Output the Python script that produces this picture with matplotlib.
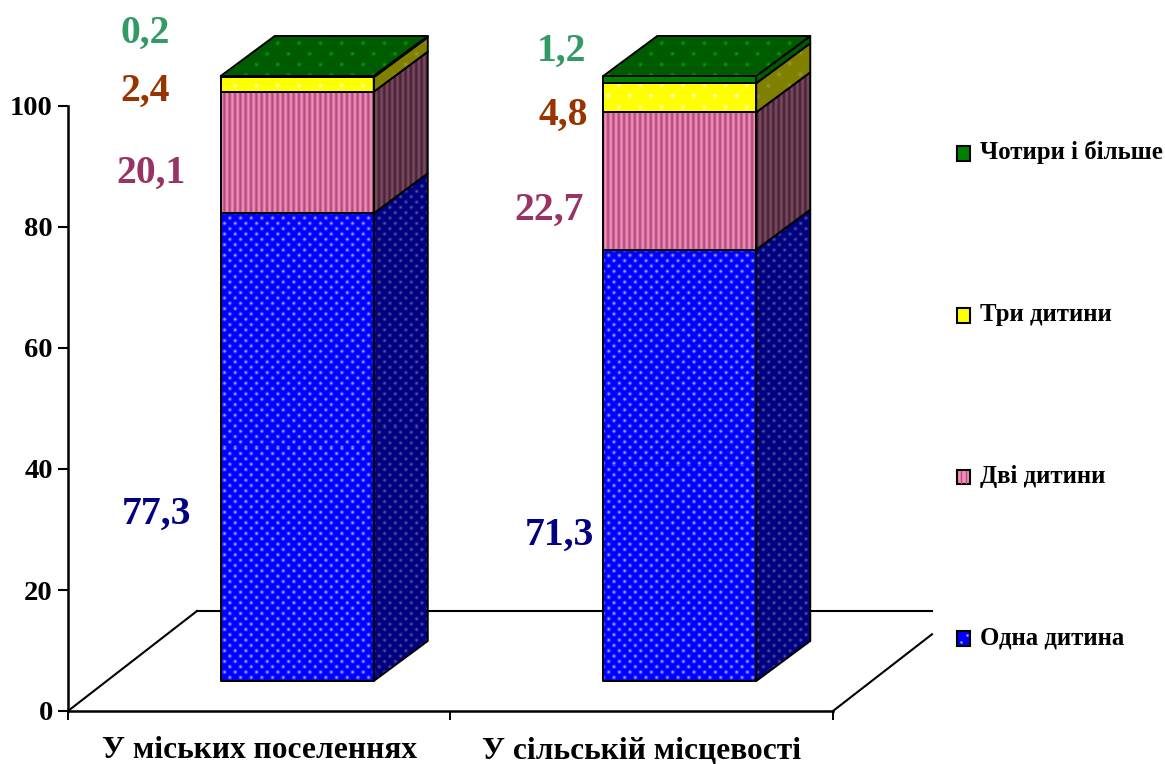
import numpy as np
import matplotlib
matplotlib.use("Agg")
import matplotlib.pyplot as plt
from matplotlib.legend_handler import HandlerBase
from matplotlib.lines import Line2D
from matplotlib.patches import Patch, Polygon, Rectangle

# Share of families by number of children, settlement type
categories = ["У міських поселеннях", "У сільській місцевості"]
series_names = ["Одна дитина", "Дві дитини", "Три дитини", "Чотири і більше"]
one_child = [77.3, 71.3]
two_children = [20.1, 22.7]
three_children = [2.4, 4.8]
four_plus = [0.2, 1.2]
y_ticks = [0, 20, 40, 60, 80, 100]

# Styling per series: front colour, side colour, texture colour, texture kind, label colour
front_colors = ["#0000ff", "#f58cba", "#ffff00", "#008000"]
side_colors = ["#000080", "#7a4a62", "#808000", "#005a00"]
mark_colors = ["#a8a8ff", "#b0507f", "#ffffd0", "#10c010"]
side_mark_colors = ["#55559f", "#4a2436", "#9a9a30", "#00b000"]
textures = ["fine", "stripes", "coarse", "coarse"]
label_colors = ["#000080", "#993366", "#993300", "#339966"]

W, H, DPI = 1165, 764, 100
SERIF = "Liberation Serif"
plt.rcParams["font.family"] = [SERIF, "DejaVu Serif"]
plt.rcParams["font.weight"] = "bold"

fig = plt.figure(figsize=(W / DPI, H / DPI), dpi=DPI, facecolor="white")
ax = fig.add_axes([68 / W, (H - 711) / H, 765 / W, 605 / H])
ax.set_xlim(0, 2)
ax.set_ylim(0, 100)
ax.set_facecolor("none")

PX_X = 2 / 765      # data units per pixel, horizontally
PX_Y = 100 / 605    # data units per pixel, vertically
BAR_WIDTH = 0.4
FRONT_DX, FRONT_DY = 38 * PX_X, 30 * PX_Y     # shift of the bars' front plane
DEPTH_DX, DEPTH_DY = 54 * PX_X, 40 * PX_Y     # depth of each bar
FLOOR_DX, FLOOR_DY = 129 * PX_X, 100 * PX_Y   # depth of the floor


def texture(kind, base, mark, x0, y0, w, h):
    """Pixel raster for one face; x0, y0 are its top-left screen pixel."""
    base = np.array(matplotlib.colors.to_rgb(base))
    mark = np.array(matplotlib.colors.to_rgb(mark))
    cols, rows = np.meshgrid(np.arange(x0, x0 + w), np.arange(y0, y0 + h))
    if kind == "stripes":
        pitch = 5.33
        amount = 0.5 + 0.5 * np.cos(2 * np.pi * (cols % pitch) / pitch)
    else:
        px, py, radius = (10.67, 5.33, 1.1) if kind == "fine" else (21.33, 10.67, 1.3)
        row_index = np.round(rows / py)
        shift = (row_index % 2) * px / 2
        du = (cols - shift + px / 2) % px - px / 2
        dv = rows - row_index * py
        amount = np.exp(-(du ** 2 + dv ** 2) / (2 * radius ** 2))
    return base + (mark - base) * amount[..., None]


def textured_face(points, kind, base, mark, zorder):
    """Fill a polygon given in data coordinates with a raster and outline it."""
    points = np.array(points)
    pix = np.column_stack([points[:, 0] / PX_X + 68, 711 - points[:, 1] / PX_Y])
    x0, x1 = int(np.floor(pix[:, 0].min())), int(np.ceil(pix[:, 0].max()))
    y0, y1 = int(np.floor(pix[:, 1].min())), int(np.ceil(pix[:, 1].max()))
    w, h = max(x1 - x0, 1), max(y1 - y0, 1)
    raster = texture(kind, base, mark, x0, y0, w, h)
    extent = [(x0 - 68) * PX_X, (x1 - 68) * PX_X, (711 - y1) * PX_Y, (711 - y0) * PX_Y]
    image = ax.imshow(raster, extent=extent, aspect="auto", origin="upper",
                      interpolation="nearest", zorder=zorder)
    outline = Polygon(points, closed=True, facecolor="none", edgecolor="black",
                      linewidth=1.4, joinstyle="round", clip_on=False, zorder=zorder + 0.1)
    ax.add_patch(outline)
    image.set_clip_box(fig.bbox)
    image.set_clip_path(outline)


# Floor of the plot area, seen behind the bars
floor_kw = dict(color="black", linewidth=1.5, clip_on=False, zorder=1)
ax.plot([0, FLOOR_DX], [0, FLOOR_DY], **floor_kw)
ax.plot([FLOOR_DX, 2 + 99 * PX_X], [FLOOR_DY, FLOOR_DY], **floor_kw)
ax.plot([2, 2 + 99 * PX_X], [0, 99 * 100 / 129 * PX_Y], **floor_kw)

# Stacked bars with their side faces and a top cap
stacks = [one_child, two_children, three_children, four_plus]
for i in range(len(categories)):
    left = i + 0.5 - BAR_WIDTH / 2 + FRONT_DX
    right = left + BAR_WIDTH
    bottom = FRONT_DY
    for s, values in enumerate(stacks):
        top = bottom + values[i]
        z = 3 + s * 0.5
        textured_face([(left, bottom), (right, bottom), (right, top), (left, top)],
                      textures[s], front_colors[s], mark_colors[s], z)
        textured_face([(right, bottom), (right + DEPTH_DX, bottom + DEPTH_DY),
                       (right + DEPTH_DX, top + DEPTH_DY), (right, top)],
                      textures[s], side_colors[s], side_mark_colors[s], z)
        bottom = top
    textured_face([(left, bottom), (right, bottom),
                   (right + DEPTH_DX, bottom + DEPTH_DY),
                   (left + DEPTH_DX, bottom + DEPTH_DY)],
                  "coarse", "#005a00", "#00a000", 6)

# Axes furniture
ax.set_xlim(0, 2)
ax.set_ylim(0, 100)
for name in ("top", "right"):
    ax.spines[name].set_visible(False)
for name in ("left", "bottom"):
    ax.spines[name].set_linewidth(1.8)
    ax.spines[name].set_zorder(8)
ax.set_yticks(y_ticks)
ax.set_yticklabels([str(v) for v in y_ticks], fontsize=20.5, fontweight="bold")
ax.tick_params(axis="y", length=7, width=1.5, pad=4)
ax.set_xticks([0, 1, 2])
ax.set_xticklabels([])
ax.tick_params(axis="x", which="major", length=6.5, width=1.4)
ax.set_xticks([0.5, 1.5], minor=True)
ax.set_xticklabels(categories, minor=True, fontsize=22.6, fontweight="bold")
ax.tick_params(axis="x", which="minor", length=0, pad=18)

# Value labels beside each bar segment
label_spots = [
    [(156, 514), (151, 173), (145, 91), (145, 33)],
    [(559, 535), (549, 210), (563, 115), (562, 51)],
]
for i, spots in enumerate(label_spots):
    for s, (px, py) in enumerate(spots):
        text = f"{stacks[s][i]:.1f}".replace(".", ",")
        fig.text(px / W, 1 - py / H, text, color=label_colors[s], fontsize=28.5,
                 fontweight="bold", ha="center", va="center")


class SwatchHandler(HandlerBase):
    """Legend square carrying a small sample of the series texture."""

    def create_artists(self, legend, orig, xd, yd, width, height, fontsize, trans):
        face = orig.get_facecolor()
        artists = [Rectangle((xd, yd), width, height, facecolor=face,
                             edgecolor="black", linewidth=1.5, transform=trans)]
        kind, mark = orig.swatch
        if kind == "stripes":
            for f in (0.33, 0.67):
                artists.append(Line2D([xd + f * width] * 2, [yd + 1, yd + height - 1],
                                      color=mark, linewidth=1.0, transform=trans))
        elif kind == "fine":
            for fx, fy in ((0.75, 0.75), (0.3, 0.3)):
                artists.append(Line2D([xd + fx * width], [yd + fy * height], marker="o",
                                      markersize=1.8, markeredgewidth=0, color=mark,
                                      transform=trans))
        return artists


handles = []
for s in range(3, -1, -1):
    patch = Patch(facecolor=front_colors[s], edgecolor="black", label=series_names[s])
    patch.swatch = (textures[s], mark_colors[s])
    handles.append(patch)

legend = fig.legend(handles=handles, loc="upper left",
                    bbox_to_anchor=(957 / W, 1 - 141 / H), bbox_transform=fig.transFigure,
                    frameon=False, prop={"family": SERIF, "weight": "bold", "size": 17.9},
                    handler_map={Patch: SwatchHandler()}, borderpad=0, borderaxespad=0,
                    handlelength=0.54, handleheight=0.54, handletextpad=0.38, labelspacing=5.58)

fig.savefig("out.png", dpi=DPI, facecolor="white")
